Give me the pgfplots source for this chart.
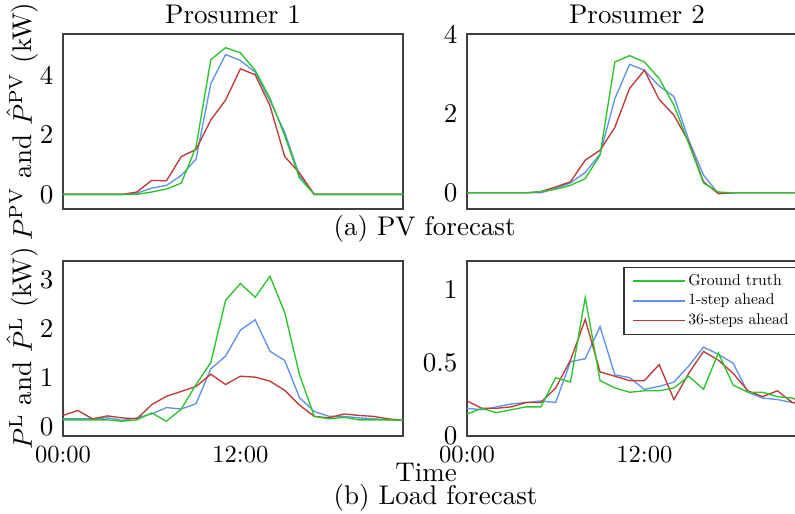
\documentclass[border=0pt]{standalone}
\usepackage{graphicx}
\usepackage{pgfplots}
\pgfplotsset{compat=1.18}
\usepackage{pgfplotstable}
\definecolor{gtc}{RGB}{44,196,44}
\definecolor{onec}{RGB}{95,148,232}
\definecolor{tsc}{RGB}{192,58,58}

\pgfplotstableread{
h gt one ts
0 0 0 0
1 0 0 0
2 0 0 0
3 0 0 0
4 0 0 0
5 0.00 0.04 0.08
6 0.08 0.21 0.47
7 0.18 0.30 0.46
8 0.38 0.64 1.27
9 1.60 1.18 1.51
10 4.53 3.72 2.50
11 4.93 4.70 3.17
12 4.76 4.50 4.22
13 4.17 4.11 4.02
14 3.23 3.15 2.98
15 1.97 2.08 1.27
16 0.55 0.63 0.72
17 0 0 0
18 0 0 0
19 0 0 0
20 0 0 0
21 0 0 0
22 0 0 0
23 0 0 0
}\pvone

\pgfplotstableread{
h gt one ts
0 0 0 0
1 0 0 0
2 0 0 0
3 0 0 0
4 0 0 0
5 0.03 0.00 0.03
6 0.09 0.11 0.15
7 0.19 0.25 0.28
8 0.36 0.52 0.83
9 0.96 0.98 1.08
10 3.32 2.39 1.66
11 3.48 3.26 2.65
12 3.32 3.11 3.11
13 2.90 2.71 2.37
14 2.22 2.44 1.97
15 1.25 1.34 1.29
16 0.25 0.45 0.28
17 0.02 -0.02 -0.02
18 0 0 0
19 0 0 0
20 0 0 0
21 0 0 0
22 0 0 0
23 0 0 0
}\pvtwo

\pgfplotstableread{
h gt one ts
0 0.14 0.16 0.23
1 0.14 0.16 0.33
2 0.14 0.16 0.16
3 0.14 0.18 0.22
4 0.11 0.13 0.18
5 0.14 0.18 0.16
6 0.28 0.26 0.45
7 0.11 0.39 0.62
8 0.36 0.36 0.72
9 0.86 0.47 0.82
10 1.31 1.18 1.07
11 2.58 1.44 0.86
12 2.92 1.97 1.03
13 2.64 2.18 1.01
14 3.07 1.54 0.93
15 2.33 1.35 0.74
16 1.06 0.59 0.44
17 0.21 0.31 0.21
18 0.16 0.21 0.18
19 0.19 0.21 0.26
20 0.14 0.18 0.23
21 0.14 0.16 0.21
22 0.14 0.14 0.16
23 0.13 0.13 0.13
}\loadone

\pgfplotstableread{
h gt one ts
0 0.15 0.19 0.24
1 0.19 0.18 0.19
2 0.16 0.20 0.19
3 0.18 0.22 0.20
4 0.20 0.23 0.23
5 0.20 0.24 0.23
6 0.40 0.23 0.33
7 0.37 0.51 0.52
8 0.95 0.53 0.80
9 0.38 0.75 0.44
10 0.33 0.42 0.41
11 0.30 0.40 0.38
12 0.31 0.32 0.38
13 0.31 0.34 0.49
14 0.33 0.37 0.25
15 0.41 0.48 0.43
16 0.32 0.61 0.58
17 0.57 0.56 0.52
18 0.35 0.50 0.43
19 0.30 0.30 0.31
20 0.30 0.26 0.27
21 0.27 0.25 0.31
22 0.26 0.23 0.23
23 0.22 0.21 0.22
}\loadtwo

\pgfplotsset{
  myax/.style={
    scale only axis, width=125.93pt, height=64.81pt,
    anchor=north west,
    xmin=0, xmax=23, xtick={0,12},
    major tick length=0pt,
    axis line style={black!75, line width=0.45pt},
    yticklabel style={font=\fontsize{10}{12}\selectfont, inner ysep=0pt},
    xticklabel style={font=\fontsize{10}{12}\selectfont, scale=0.91, inner sep=0pt, yshift=-3.8pt},
    label style={font=\fontsize{10}{12}\selectfont},
    ylabel style={at={(axis description cs:-0.0912,0.5)}, anchor=base},
    every axis plot/.append style={line width=0.5pt},
  },
}

\begin{document}
\begin{tikzpicture}
\useasboundingbox (0,0) rectangle (294.44pt,-190pt);
\clip (0,0) rectangle (294.44pt,-190pt);

\begin{axis}[myax, at={(23.33pt,-12.59pt)}, ymin=-0.49, ymax=5.39, ytick={0,2,4},
  xticklabels={},
  ylabel={$P^{\mathrm{PV}}$ and $\hat{P}^{\mathrm{PV}}$ (kW)}]
\addplot[onec] table[x=h,y=one]{\pvone};
\addplot[tsc] table[x=h,y=ts]{\pvone};
\addplot[gtc] table[x=h,y=gt]{\pvone};
\end{axis}

\begin{axis}[myax, at={(172.96pt,-12.59pt)}, ymin=-0.41, ymax=4.03, ytick={0,2,4},
  xticklabels={}]
\addplot[onec] table[x=h,y=one]{\pvtwo};
\addplot[tsc] table[x=h,y=ts]{\pvtwo};
\addplot[gtc] table[x=h,y=gt]{\pvtwo};
\end{axis}

\begin{axis}[myax, at={(23.33pt,-96.67pt)}, ymin=-0.19, ymax=3.38, ytick={0,1,2,3},
  xticklabels={00:00,12:00},
  ylabel={$P^{\mathrm{L}}$ and $\hat{P}^{\mathrm{L}}$ (kW)}]
\addplot[onec] table[x=h,y=one]{\loadone};
\addplot[tsc] table[x=h,y=ts]{\loadone};
\addplot[gtc] table[x=h,y=gt]{\loadone};
\end{axis}

\begin{axis}[myax, at={(172.96pt,-96.67pt)}, ymin=0, ymax=1.2, ytick={0,0.5,1},
  xticklabels={00:00,12:00},
  legend cell align=left,
  legend image code/.code={\draw[#1, line width=0.55pt] (0pt,0pt) -- (19.3pt,0pt);},
  legend style={at={(1,1)}, anchor=north east, xshift=-2.6pt, yshift=-2.1pt,
    font=\fontsize{10}{12}\selectfont, draw=black!80, line width=0.45pt,
    inner xsep=3.1pt, inner ysep=1.5pt,
    nodes={inner sep=0.9pt, text height=4.2pt, text depth=1.3pt}}]
\addlegendimage{draw=gtc}
\addlegendentry{\scalebox{0.58}{Ground truth}}
\addlegendimage{draw=onec}
\addlegendentry{\scalebox{0.58}{1-step ahead}}
\addlegendimage{draw=tsc}
\addlegendentry{\scalebox{0.58}{36-steps ahead}}
\addplot[onec, forget plot] table[x=h,y=one]{\loadtwo};
\addplot[tsc, forget plot] table[x=h,y=ts]{\loadtwo};
\addplot[gtc, forget plot] table[x=h,y=gt]{\loadtwo};
\end{axis}

\node[anchor=base, font=\fontsize{10}{12}\selectfont, inner sep=0pt] at (86.3pt,-8.52pt) {Prosumer 1};
\node[anchor=base, font=\fontsize{10}{12}\selectfont, inner sep=0pt] at (235.9pt,-8.52pt) {Prosumer 2};
\node[anchor=base west, font=\fontsize{10}{12}\selectfont, inner sep=0pt] at (123.33pt,-87.04pt) {(a) PV forecast};
\node[anchor=base, font=\fontsize{10}{12}\selectfont, inner sep=0pt] at (157.78pt,-178.5pt) {Time};
\node[anchor=base west, font=\fontsize{10}{12}\selectfont, inner sep=0pt] at (123.33pt,-186.9pt) {(b) Load forecast};
\end{tikzpicture}
\end{document}
